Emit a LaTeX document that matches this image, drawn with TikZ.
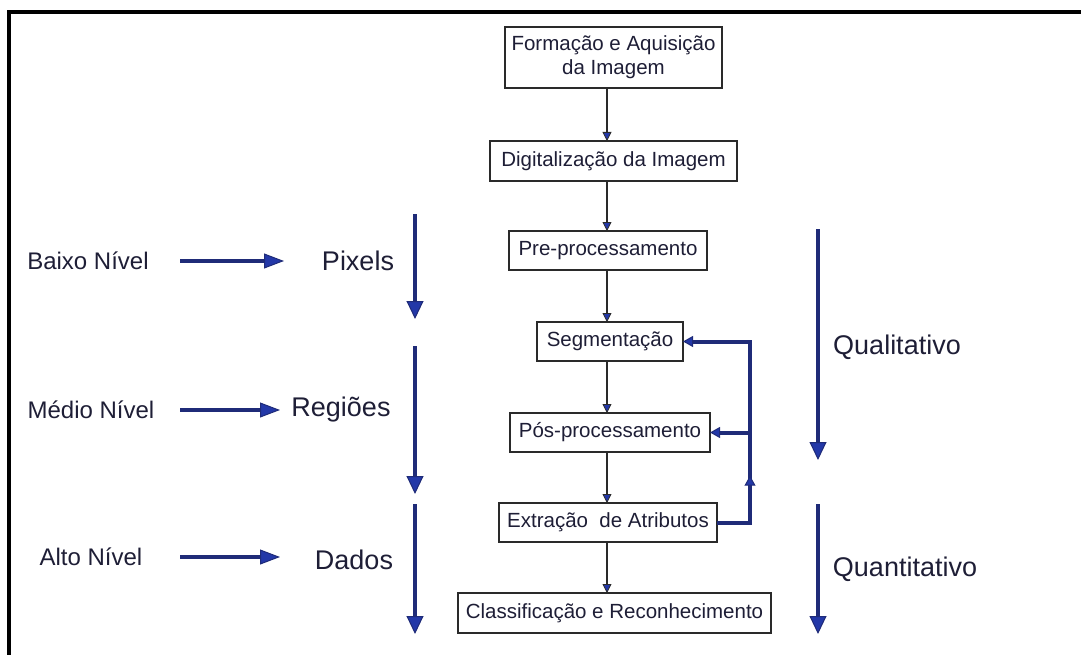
\documentclass[tikz,border=0pt]{standalone}
\usepackage{fontspec}
\setmainfont{Liberation Sans}
\usetikzlibrary{arrows.meta,calc}
\definecolor{txt}{HTML}{1E1E36}
\definecolor{navy}{HTML}{1F2B78}
\definecolor{headblue}{HTML}{2338A8}
\definecolor{boxline}{HTML}{2A2A2A}
\tikzset{
  stepbox/.style={draw=boxline, line width=1.8pt, fill=white, text=txt,
    font=\fontsize{20.5}{24}\selectfont, align=center, inner sep=0pt, outer sep=0pt},
  flow/.style={draw=boxline, line width=2.6pt,
    -{Triangle[length=9pt, width=9pt, fill=headblue, line width=0.8pt]}},
  fb/.style={draw=navy, line width=4pt, line join=miter},
  fbtip/.style={fb, -{Triangle[length=10pt, width=11pt, fill=headblue, line width=1pt]}},
  level/.style={text=txt, font=\fontsize{24}{28}\selectfont, inner sep=0pt},
  group/.style={text=txt, font=\fontsize{27}{32}\selectfont, inner sep=0pt},
  bigarrow/.style={draw=navy, line width=4.5pt,
    -{Triangle[length=18pt, width=17pt, fill=headblue, line width=1pt]}},
  sidearrow/.style={draw=navy, line width=4pt,
    -{Triangle[length=20pt, width=15pt, fill=headblue, line width=1pt]}},
}
\begin{document}
\begin{tikzpicture}[x=1pt, y=-1pt]
  \useasboundingbox (0,0) rectangle (1081,655);
  % page frame (only top and left edges fall inside)
  \draw[line width=3.2pt, black] (9,700) -- (9,12) -- (1120,12);

  % processing chain
  \node[stepbox, minimum width=217pt, minimum height=61pt] (form) at (613.5,57.5)
    {Formação e Aquisição\\da Imagem};
  \node[stepbox, minimum width=247pt, minimum height=40pt] (dig) at (613.5,161) {Digitalização da Imagem};
  \node[stepbox, minimum width=198pt, minimum height=39pt] (pre) at (608,250.5) {Pre-processamento};
  \node[stepbox, minimum width=146pt, minimum height=39pt] (seg) at (610,341.5) {Segmentação};
  \node[stepbox, minimum width=200pt, minimum height=39pt] (pos) at (610,432.5) {Pós-processamento};
  \node[stepbox, minimum width=218pt, minimum height=39pt] (ext) at (608,522.5) {Extração\ \ de Atributos};
  \node[stepbox, minimum width=313pt, minimum height=40pt] (cls) at (614.5,613) {Classificação e Reconhecimento};

  \draw[flow] (form.south -| 607,0) -- (dig.north -| 607,0);
  \draw[flow] (dig.south -| 607,0) -- (pre.north -| 607,0);
  \draw[flow] (pre.south -| 607,0) -- (seg.north -| 607,0);
  \draw[flow] (seg.south -| 607,0) -- (pos.north -| 607,0);
  \draw[flow] (pos.south -| 607,0) -- (ext.north -| 607,0);
  \draw[flow] (ext.south -| 607,0) -- (cls.north -| 607,0);

  % feedback loop
  \coordinate (lx) at (750,0);
  \draw[fb] (ext.east) -- (ext.east -| lx) -- (seg.east -| lx) -- ([xshift=6pt]seg.east);
  \draw[fbtip] ([xshift=8pt]seg.east) -- (seg.east);
  \draw[fbtip] (pos.east -| lx) -- (pos.east);
  \draw[fbtip] (ext.east -| lx) -- ($(ext.east -| lx)!0.52!(pos.east -| lx)$);

  % abstraction levels
  \node[level] (baixo) at (88,261) {Baixo Nível};
  \node[level] (medio) at (91,410) {Médio Nível};
  \node[level] (alto)  at (91,557) {Alto Nível};
  \node[group] (pix) at (358,261) {Pixels};
  \node[group] (reg) at (341,410) {Regiões};
  \node[group] (dad) at (354,560) {Dados};
  \coordinate (bs) at (180,261); \coordinate (be) at (284,261);
  \coordinate (ms) at (180,410); \coordinate (me) at (280,410);
  \coordinate (as) at (180,557); \coordinate (ae) at (280,557);
  \draw[sidearrow] (bs) -- (be);
  \draw[sidearrow] (ms) -- (me);
  \draw[sidearrow] (as) -- (ae);

  \coordinate (v1s) at (415,214); \coordinate (v1e) at (415,319);
  \coordinate (v2s) at (415,346); \coordinate (v2e) at (415,494);
  \coordinate (v3s) at (415,504); \coordinate (v3e) at (415,634);
  \draw[bigarrow] (v1s) -- (v1e);
  \draw[bigarrow] (v2s) -- (v2e);
  \draw[bigarrow] (v3s) -- (v3e);

  % qualitative / quantitative
  \node[group] (qual) at (897,347) {Qualitativo};
  \node[group] (quan) at (905,569) {Quantitativo};
  \coordinate (q1s) at (818,229); \coordinate (q1e) at (818,460);
  \coordinate (q2s) at (818,504); \coordinate (q2e) at (818,634);
  \draw[bigarrow] (q1s) -- (q1e);
  \draw[bigarrow] (q2s) -- (q2e);
\end{tikzpicture}
\end{document}
